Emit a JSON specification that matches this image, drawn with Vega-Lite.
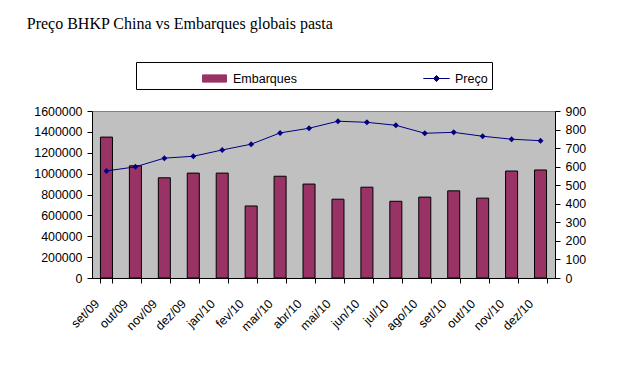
{
  "$schema": "https://vega.github.io/schema/vega-lite/v6.json",
  "width": 463,
  "height": 167,
  "padding": {"left": 26, "top": 15, "right": 5, "bottom": 5},
  "background": "white",
  "title": {
    "text": "Preço BHKP China vs Embarques globais pasta",
    "anchor": "start",
    "frame": "bounds",
    "font": "Liberation Serif",
    "fontSize": 16,
    "fontWeight": "normal",
    "color": "black",
    "offset": 30,
    "dx": -7
  },
  "config": {
    "view": {"fill": "#C0C0C0", "stroke": "#808080"},
    "axis": {
      "labelFont": "Liberation Sans",
      "labelFontSize": 12.4,
      "labelColor": "black",
      "domainColor": "black",
      "tickColor": "black",
      "grid": false,
      "tickSize": 5,
      "labelPadding": 5,
      "title": null
    },
    "legend": {
      "labelFont": "Liberation Sans",
      "labelFontSize": 12.5,
      "labelColor": "black"
    }
  },
  "data": {
    "values": [
      {"mes": "set/09", "Embarques": 1350000, "Preco": 577},
      {"mes": "out/09", "Embarques": 1075000, "Preco": 599},
      {"mes": "nov/09", "Embarques": 960000, "Preco": 646},
      {"mes": "dez/09", "Embarques": 1005000, "Preco": 656},
      {"mes": "jan/10", "Embarques": 1005000, "Preco": 690},
      {"mes": "fev/10", "Embarques": 690000, "Preco": 721},
      {"mes": "mar/10", "Embarques": 975000, "Preco": 782},
      {"mes": "abr/10", "Embarques": 900000, "Preco": 807},
      {"mes": "mai/10", "Embarques": 755000, "Preco": 845},
      {"mes": "jun/10", "Embarques": 870000, "Preco": 839},
      {"mes": "jul/10", "Embarques": 735000, "Preco": 823},
      {"mes": "ago/10", "Embarques": 775000, "Preco": 780},
      {"mes": "set/10", "Embarques": 835000, "Preco": 785},
      {"mes": "out/10", "Embarques": 765000, "Preco": 764},
      {"mes": "nov/10", "Embarques": 1025000, "Preco": 748},
      {"mes": "dez/10", "Embarques": 1035000, "Preco": 740}
    ]
  },
  "encoding": {
    "x": {
      "field": "mes",
      "type": "nominal",
      "sort": null,
      "scale": {"paddingInner": 0.585, "paddingOuter": 0.2925},
      "axis": {
        "labelAngle": -45,
        "tickBand": "extent",
        "labelPadding": 14,
        "labelOffset": -14
      }
    }
  },
  "layer": [
    {
      "mark": {"type": "bar", "stroke": "black", "strokeWidth": 1},
      "encoding": {
        "y": {
          "field": "Embarques",
          "type": "quantitative",
          "scale": {"domain": [0, 1600000], "nice": false},
          "axis": {"orient": "left", "values": [0, 200000, 400000, 600000, 800000, 1000000, 1200000, 1400000, 1600000], "format": "d"}
        },
        "color": {
          "datum": "Embarques",
          "type": "nominal",
          "scale": {"domain": ["Embarques", "Preço"], "range": ["#993366", "#000080"]},
          "legend": {
            "title": null,
            "orient": "none",
            "legendX": 44,
            "legendY": -49,
            "direction": "horizontal",
            "columns": 2,
            "strokeColor": "black",
            "fillColor": "white",
            "padding": 4,
            "symbolSize": 576,
            "symbolOffset": 62,
            "labelOffset": 6,
            "columnPadding": 65,
            "symbolStrokeWidth": 1,
            "symbolOpacity": 1,
            "symbolType": {"expr": "datum.value == 'Embarques' ? 'M-1,-0.3H1V0.3H-1Z' : 'M-1.1,0H1.1M0,-0.25L0.25,0L0,0.25L-0.25,0Z'"},
            "symbolStrokeColor": {"expr": "datum.value == 'Embarques' ? 'black' : '#000080'"}
          }
        }
      }
    },
    {
      "mark": {"type": "line", "strokeWidth": 1, "point": {"shape": "diamond", "size": 36, "filled": true}},
      "encoding": {
        "y": {
          "field": "Preco",
          "type": "quantitative",
          "scale": {"domain": [0, 900], "nice": false},
          "axis": {"orient": "right", "values": [0, 100, 200, 300, 400, 500, 600, 700, 800, 900]}
        },
        "color": {"datum": "Preço", "type": "nominal"}
      }
    }
  ],
  "resolve": {"scale": {"y": "independent"}}
}
